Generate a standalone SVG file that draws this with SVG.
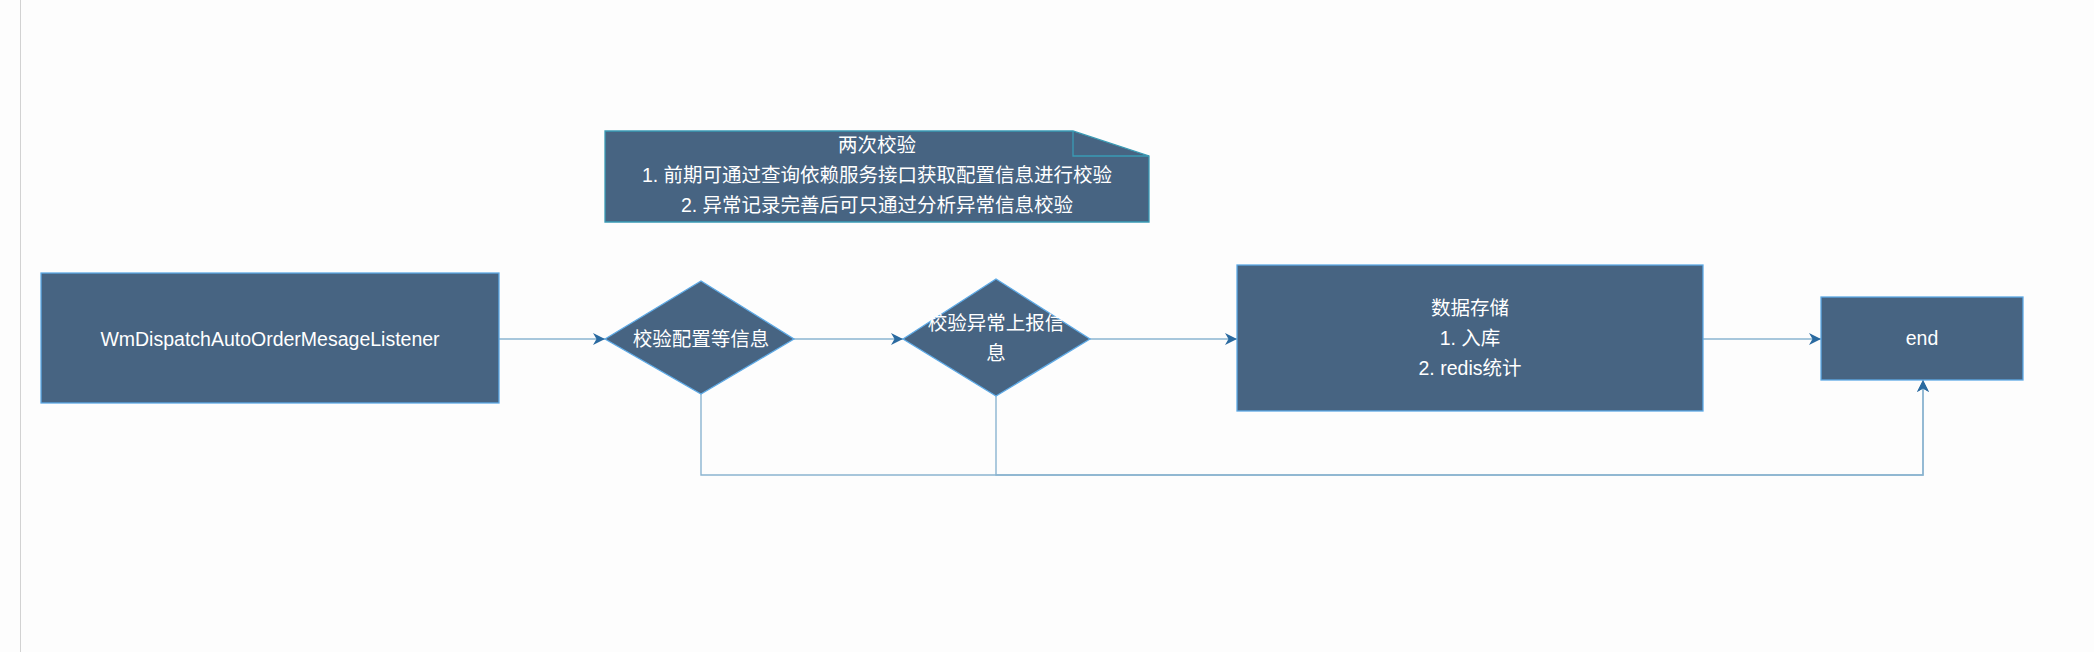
<svg xmlns="http://www.w3.org/2000/svg" width="2094" height="652" viewBox="0 0 2094 652">
<defs>
<style>
.node{fill:#476482;stroke:#5eaae6;stroke-width:1.3}
.note{fill:#476482;stroke:#3a9bb5;stroke-width:1.3}
.t{font-family:"Liberation Sans","Noto Sans CJK SC",sans-serif;font-size:19.5px;fill:#ffffff;text-anchor:middle}
.edge{fill:none;stroke:#8ab4d0;stroke-width:1.4}
</style>
<marker id="arr" markerUnits="userSpaceOnUse" markerWidth="13" markerHeight="12" refX="12" refY="6" orient="auto">
<path d="M0,0 L12,6 L0,12 L3.5,6 Z" fill="#2a6aa0"/>
</marker>
</defs>
<rect x="0" y="0" width="2094" height="652" fill="#fdfdfd"/>
<line x1="20.5" y1="0" x2="20.5" y2="652" stroke="#d2d2d2" stroke-width="1"/>

<g id="connectors">
<path class="edge" d="M499 339 H605" marker-end="url(#arr)"/>
<path class="edge" d="M794 339 H903" marker-end="url(#arr)"/>
<path class="edge" d="M1090 339 H1237" marker-end="url(#arr)"/>
<path class="edge" d="M1703 339 H1821" marker-end="url(#arr)"/>
<path class="edge" d="M701 394 V475 H1923 V380" marker-end="url(#arr)"/>
<path class="edge" d="M996 396 V475 H1923 V380" stroke="#5f98bf" marker-end="url(#arr)"/>
</g>

<g id="note">
<path class="note" d="M605 131 H1073 L1149 156 V222 H605 Z"/>
<path d="M1073 131 V156 H1149" fill="none" stroke="#3a9bb5" stroke-width="1.3"/>
<text class="t" x="877" y="152">两次校验</text>
<text class="t" x="877" y="182">1. 前期可通过查询依赖服务接口获取配置信息进行校验</text>
<text class="t" x="877" y="212">2. 异常记录完善后可只通过分析异常信息校验</text>
</g>

<g id="listener">
<rect class="node" x="41" y="273" width="458" height="130"/>
<text class="t" x="270" y="346">WmDispatchAutoOrderMesageListener</text>
</g>

<g id="check1">
<path class="node" d="M605 339 L701 281 L794 339 L701 394 Z"/>
<text class="t" x="701" y="346">校验配置等信息</text>
</g>

<g id="check2">
<path class="node" d="M903 339 L996 279 L1090 339 L996 396 Z"/>
<text class="t" x="996" y="330">校验异常上报信</text>
<text class="t" x="996" y="360">息</text>
</g>

<g id="storage">
<rect class="node" x="1237" y="265" width="466" height="146"/>
<text class="t" x="1470" y="315">数据存储</text>
<text class="t" x="1470" y="345">1. 入库</text>
<text class="t" x="1470" y="375">2. redis统计</text>
</g>

<g id="end">
<rect class="node" x="1821" y="297" width="202" height="83"/>
<text class="t" x="1922" y="345">end</text>
</g>
</svg>
